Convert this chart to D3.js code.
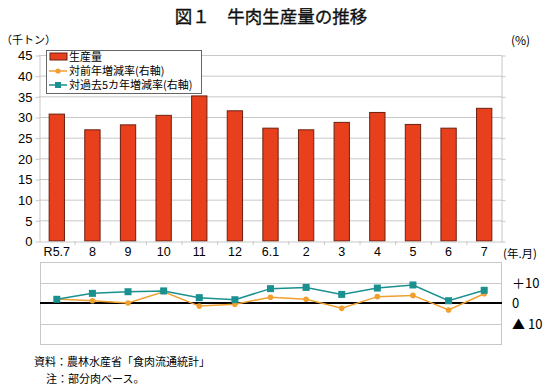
<!DOCTYPE html>
<html><head><meta charset="utf-8">
<script src="https://cdn.jsdelivr.net/npm/d3@7"></script>
<style>
html,body{margin:0;padding:0;background:#fff;}
svg{display:block;font-family:"Noto Sans CJK JP","Noto Sans",sans-serif;}
</style></head>
<body><svg id="c" width="550" height="388"></svg>
<script>
const categories = ["R5.7","8","9","10","11","12","6.1","2","3","4","5","6","7"];
const production = [30.7,26.9,28.1,30.4,35.1,31.5,27.3,26.9,28.7,31.1,28.2,27.3,32.1];
const yoyRate = [2.0,1.1,0.0,5.5,-1.5,-0.6,2.8,1.8,-2.6,3.1,3.7,-3.4,4.5];
const fiveYearRate = [1.8,4.7,5.5,5.9,2.6,1.6,7.0,7.6,4.2,7.3,8.8,1.1,6.2];
const leftTicks = [0,5,10,15,20,25,30,35,40,45];
const rightTicks = [10,0,-10];
const rightTickLabels = ["＋10","0","▲ 10"];
const legendLabels = ["生産量","対前年増減率(右軸)","対過去5カ年増減率(右軸)"];

const svg = d3.select("#c");
const gridC = "#c8c8c8";
const barC = "#E8401C", orangeC = "#F0A030", tealC = "#1A9090";

const x = d3.scaleBand().domain(categories).range([39, 502]).padding(0);
const y = d3.scaleLinear().domain([0,45]).range([241,55]);
const y2 = d3.scaleLinear().domain([-20,20]).range([344,262]);

// title
svg.append("text").attr("x",271).attr("y",23).attr("text-anchor","middle")
  .attr("font-size",17.5).attr("font-weight","normal").attr("fill","#111")
  .attr("stroke","#111").attr("stroke-width",0.35).text("図１　牛肉生産量の推移");
svg.append("text").attr("x",1).attr("y",44).attr("font-size",11).text("（千トン）");
svg.append("text").attr("x",511).attr("y",45).attr("font-size",12).text("(%)");

// upper grid
svg.append("g").selectAll("line").data(leftTicks.filter(d=>d>0)).join("line")
  .attr("x1",39).attr("x2",502).attr("y1",d=>y(d)+0.5).attr("y2",d=>y(d)+0.5)
  .attr("stroke",gridC);
// left axis
const la = svg.append("g").attr("transform","translate(39.5,0.5)")
  .call(d3.axisLeft(y).tickValues(leftTicks).tickSize(4).tickSizeOuter(0));
la.select(".domain").attr("stroke",gridC);
la.selectAll(".tick line").attr("stroke",gridC);
la.selectAll(".tick text").attr("font-size",13).attr("fill","#000").attr("x",-7)
  .attr("font-family","Liberation Sans, Arial, sans-serif");
// right border with ticks
const ra = svg.append("g").attr("transform","translate(501.5,0.5)")
  .call(d3.axisRight(y).tickValues(leftTicks).tickSize(4).tickSizeOuter(0).tickFormat(""));
ra.select(".domain").attr("stroke",gridC);
ra.selectAll(".tick line").attr("stroke",gridC);

// bars
const bw = x.bandwidth()*0.43;
svg.append("g").selectAll("rect").data(production).join("rect")
  .attr("x",(d,i)=>x(categories[i])+x.bandwidth()/2-bw/2)
  .attr("y",d=>y(d)).attr("width",bw).attr("height",d=>y(0)-y(d))
  .attr("fill",barC).attr("stroke","#6a2010").attr("stroke-width",1);

// bottom axis
const ba = svg.append("g").attr("transform","translate(0,241.5)")
  .call(d3.axisBottom(x).tickSize(0).tickSizeOuter(0));
ba.select(".domain").attr("stroke",gridC);
ba.selectAll(".tick text").attr("font-size",12.5).attr("fill","#000").attr("dy","0.9em")
  .attr("font-family","Liberation Sans, Arial, sans-serif");
svg.append("g").selectAll("line").data(categories.slice(1)).join("line")
  .attr("x1",d=>x(d)+0.5).attr("x2",d=>x(d)+0.5).attr("y1",241).attr("y2",245).attr("stroke",gridC);
svg.append("text").attr("x",503).attr("y",257.5).attr("font-size",11.5).text("(年.月)");

// lower panel
const lowGrid = [20,10,-10,-20];
svg.append("g").selectAll("line").data(lowGrid).join("line")
  .attr("x1",40).attr("x2",502).attr("y1",d=>Math.round(y2(d))+0.5).attr("y2",d=>Math.round(y2(d))+0.5)
  .attr("stroke",gridC);
svg.append("line").attr("x1",40.5).attr("x2",40.5).attr("y1",262).attr("y2",344).attr("stroke",gridC);
svg.append("line").attr("x1",501.5).attr("x2",501.5).attr("y1",262).attr("y2",344).attr("stroke",gridC);
svg.append("line").attr("x1",40).attr("x2",502).attr("y1",y2(0)).attr("y2",y2(0)).attr("stroke","#000").attr("stroke-width",2);
svg.append("g").selectAll("text").data(rightTicks).join("text")
  .attr("x",512).attr("y",d=>y2(d)+5).attr("font-size",13)
  .text((d,i)=>rightTickLabels[i]);

const cx = (d,i)=>x(categories[i])+x.bandwidth()/2;
const line = d3.line().x(cx).y(d=>y2(d));
svg.append("path").datum(yoyRate).attr("d",line).attr("fill","none").attr("stroke",orangeC).attr("stroke-width",1.5);
svg.append("g").selectAll("circle").data(yoyRate).join("circle")
  .attr("cx",cx).attr("cy",d=>y2(d)).attr("r",2.8).attr("fill",orangeC);
svg.append("path").datum(fiveYearRate).attr("d",line).attr("fill","none").attr("stroke",tealC).attr("stroke-width",1.5);
svg.append("g").selectAll("rect").data(fiveYearRate).join("rect")
  .attr("x",(d,i)=>cx(d,i)-3.5).attr("y",d=>y2(d)-3.5).attr("width",7).attr("height",7).attr("fill",tealC);

// legend
const lg = svg.append("g");
lg.append("rect").attr("x",46.5).attr("y",50.5).attr("width",155).attr("height",43)
  .attr("fill","#fff").attr("stroke","#666");
lg.append("rect").attr("x",50).attr("y",53).attr("width",17).attr("height",7).attr("fill",barC).attr("stroke","#6a2010");
lg.append("line").attr("x1",49).attr("x2",67).attr("y1",71).attr("y2",71).attr("stroke",orangeC).attr("stroke-width",1.5);
lg.append("circle").attr("cx",58).attr("cy",71).attr("r",2.6).attr("fill",orangeC);
lg.append("line").attr("x1",49).attr("x2",67).attr("y1",85).attr("y2",85).attr("stroke",tealC).attr("stroke-width",1.5);
lg.append("rect").attr("x",55).attr("y",82).attr("width",6).attr("height",6).attr("fill",tealC);
lg.selectAll("text.l").data(legendLabels).join("text").attr("class","l")
  .attr("x",69).attr("y",(d,i)=>60.5+i*14.2).attr("font-size",11).text(d=>d);

// notes
svg.append("text").attr("x",34).attr("y",365.5).attr("font-size",11).text("資料：農林水産省「食肉流通統計」");
svg.append("text").attr("x",46).attr("y",382.5).attr("font-size",11).text("注：部分肉ベース。");
</script></body></html>
